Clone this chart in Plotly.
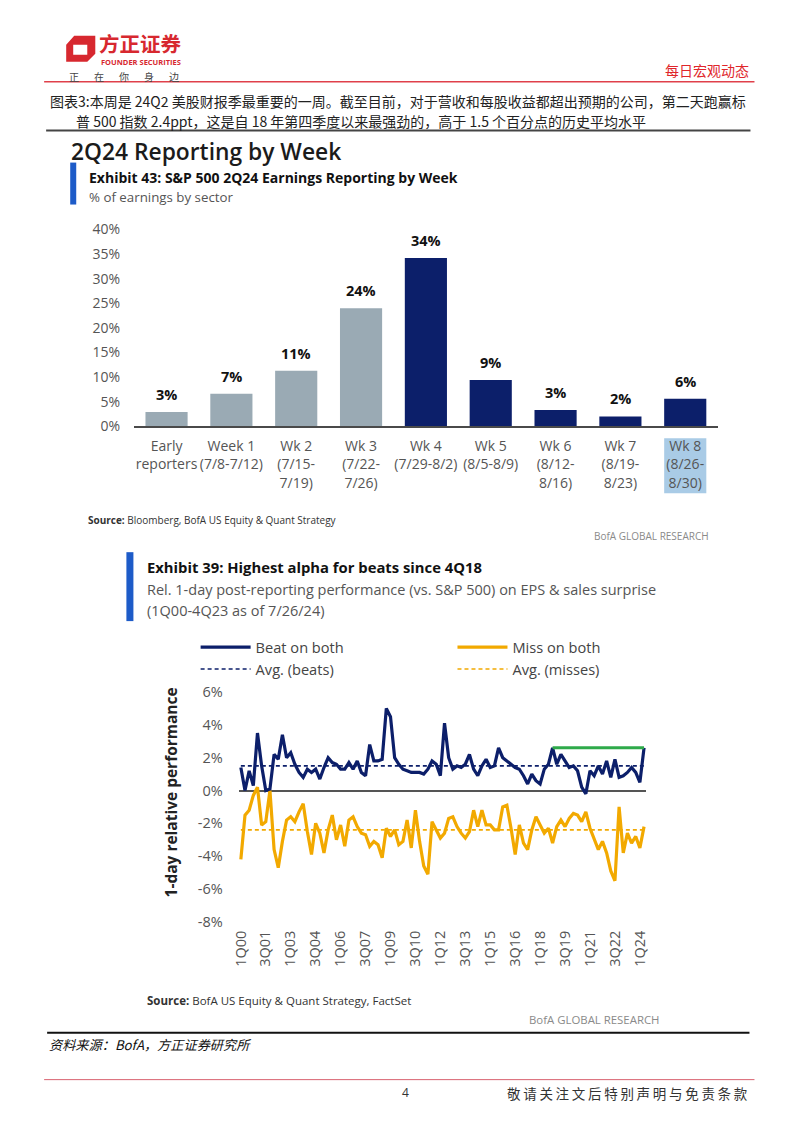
import plotly.graph_objects as go

# ---------------- data ----------------
week_labels = ["Early<br>reporters", "Week 1<br>(7/8-7/12)", "Wk 2<br>(7/15-<br>7/19)",
               "Wk 3<br>(7/22-<br>7/26)", "Wk 4<br>(7/29-8/2)", "Wk 5<br>(8/5-8/9)",
               "Wk 6<br>(8/12-<br>8/16)", "Wk 7<br>(8/19-<br>8/23)", "Wk 8<br>(8/26-<br>8/30)"]
earnings_pct = [2.9, 6.6, 11.3, 24.0, 34.2, 9.4, 3.3, 2.0, 5.6]
bar_yticks = [0, 5, 10, 15, 20, 25, 30, 35, 40]

quarters = [f"{q}Q{y:02d}" for y in range(0, 25) for q in range(1, 5)][:98]
beat_both = [1.4, 0.0, 1.2, 0.3, 3.5, 1.5, 0.0, 0.1, 2.2, 1.9,
             3.4, 2.0, 2.3, 1.6, 1.1, 0.8, 1.3, 1.1, 1.3, 0.7,
             1.4, 2.0, 1.7, 1.6, 1.3, 1.3, 1.7, 1.3, 1.8, 1.1,
             0.9, 2.8, 1.8, 1.8, 1.9, 5.0, 4.5, 2.0, 1.6, 1.3,
             1.2, 1.1, 1.1, 1.1, 1.0, 1.3, 1.8, 1.6, 0.9, 4.1,
             2.0, 1.3, 1.5, 1.4, 1.6, 2.2, 1.3, 0.9, 1.5, 1.9,
             1.4, 1.5, 2.6, 2.0, 1.8, 1.6, 1.4, 1.3, 0.9, 0.4,
             1.0, 0.6, 0.4, 1.3, 1.6, 2.6, 1.6, 2.2, 1.8, 1.4,
             1.5, 1.2, 0.2, -0.2, 1.2, 0.9, 1.5, 1.0, 1.8, 0.8,
             1.9, 0.8, 0.9, 1.1, 1.4, 1.1, 0.5, 2.6]
miss_both = [-4.2, -1.5, -1.2, -0.3, 0.2, -2.1, -1.9, 0.0, -3.6, -4.7,
             -3.1, -1.8, -1.6, -1.9, -1.3, -0.8, -2.5, -3.9, -2.0, -2.6,
             -3.8, -2.4, -1.5, -3.0, -2.1, -3.4, -1.8, -1.6, -2.2, -2.6,
             -2.7, -3.4, -3.1, -3.3, -4.1, -2.3, -2.8, -2.4, -3.3, -3.1,
             -1.8, -3.5, -1.2, -3.1, -4.6, -5.1, -1.9, -2.4, -2.9, -2.6,
             -1.7, -1.6, -2.2, -2.6, -2.9, -2.5, -1.2, -2.2, -1.2, -2.1,
             -2.1, -2.4, -2.4, -1.0, -0.9, -2.3, -3.9, -2.1, -3.2, -3.6,
             -2.4, -1.6, -2.1, -2.6, -2.3, -3.2, -2.2, -1.8, -2.2, -1.7,
             -1.4, -1.5, -1.9, -1.3, -2.3, -2.9, -3.6, -3.1, -3.8, -4.9,
             -5.5, -1.0, -3.8, -2.6, -3.2, -2.8, -3.5, -2.2]
avg_beats = 1.5
avg_misses = -2.4
highlight_start = "4Q18"
line_xticks = ["1Q00", "3Q01", "1Q03", "3Q04", "1Q06", "3Q07", "1Q09", "3Q10", "1Q12",
               "3Q13", "1Q15", "3Q16", "1Q18", "3Q19", "1Q21", "3Q22", "1Q24"]
line_yticks = [6, 4, 2, 0, -2, -4, -6, -8]

# ---------------- style ----------------
# the page body keeps its 8px margin; the figure fills the rest of the window.
# page positions below are given in reference-image pixels and mapped with a
# small measured correction (offset + scale) of the rendered page.
OX, OY = 8, 8
W, H = 802 - 2 * OX, 1133 - 2 * OY
AX, AY, SC = 10.1, 10.4, 0.984
def fx(x): return ((x - AX) / SC - OX) / W
def fy(y): return 1 - ((y - AY) / SC - OY) / H

NAVY = "#0c1f6a"
GRAYBAR = "#9aaab4"
ORANGE = "#f2a900"
GREEN = "#2eaa4a"
BLUEBAR = "#1d5bc8"
RED = "#d7282f"
OPEN = "Open Sans, sans-serif"
CJK = "Noto Sans CJK SC, sans-serif"
bar_colors = [GRAYBAR] * 4 + [NAVY] * 5

fig = go.Figure()

# ---- bar chart ----
fig.add_trace(go.Bar(x=week_labels, y=earnings_pct, marker=dict(color=bar_colors, line=dict(width=0)),
                     xaxis="x", yaxis="y", showlegend=False, hoverinfo="skip"))

# ---- line chart ----
n = len(quarters)
hs = quarters.index(highlight_start)
fig.add_trace(go.Scatter(x=quarters, y=[avg_beats] * n, mode="lines", name="Avg. (beats)",
                         line=dict(color=NAVY, width=1.6, dash="4px,3px"), xaxis="x2", yaxis="y2",
                         legend="legend", legendrank=3))
fig.add_trace(go.Scatter(x=quarters, y=[avg_misses] * n, mode="lines", name="Avg. (misses)",
                         line=dict(color=ORANGE, width=1.6, dash="4px,3px"), xaxis="x2", yaxis="y2",
                         legend="legend2", legendrank=4))
fig.add_trace(go.Scatter(x=quarters, y=miss_both, mode="lines", name="Miss on both",
                         line=dict(color=ORANGE, width=3.2), xaxis="x2", yaxis="y2",
                         legend="legend2", legendrank=2))
fig.add_trace(go.Scatter(x=quarters, y=beat_both, mode="lines", name="Beat on both",
                         line=dict(color=NAVY, width=3.2), xaxis="x2", yaxis="y2",
                         legend="legend", legendrank=1))
fig.add_trace(go.Scatter(x=quarters[hs:], y=[beat_both[-1]] * (n - hs), mode="lines",
                         line=dict(color=GREEN, width=3), xaxis="x2", yaxis="y2", showlegend=False))

ann = []
def text(x, y, s, size, color="#333", family=OPEN, anchor="left", weight=None, angle=0):
    f = dict(size=size, color=color, family=family)
    if weight:
        f["weight"] = weight
    ann.append(dict(x=fx(x), y=fy(y), xref="paper", yref="paper", text=s, showarrow=False,
                    xanchor=anchor, yanchor="middle", textangle=angle, font=f))

# bar value labels
for cat, v in zip(week_labels, earnings_pct):
    ann.append(dict(x=cat, y=v, xref="x", yref="y", text=f"<b>{v:.0f}%</b>", showarrow=False,
                    yanchor="bottom", yshift=6, font=dict(size=14.5, color="#111", family=OPEN)))

# header
text(99, 43, "<b>方正证券</b>", 20.5, RED, CJK)
text(101, 62, "<b>FOUNDER SECURITIES</b>", 7.5, RED, OPEN)
text(69, 76.5, "\u2003\u2002".join("正在你身边"), 10, "#444", CJK)
text(751, 70, "每日宏观动态", 14, "#e0262b", CJK, anchor="right")
text(50, 101, "图表3:本周是 24Q2 美股财报季最重要的一周。截至目前，对于营收和每股收益都超出预期的公司，第二天跑赢标",
     14, "#222", CJK)
text(76, 121, "普 500 指数 2.4ppt，这是自 18 年第四季度以来最强劲的，高于 1.5 个百分点的历史平均水平",
     14, "#222", CJK)

# exhibit 43
text(71, 152, "2Q24 Reporting by Week", 22.8, "#1b1b1b", OPEN, weight=600)
text(89, 178, "<b>Exhibit 43: S&P 500 2Q24 Earnings Reporting by Week</b>", 14, "#111")
text(89, 197, "% of earnings by sector", 13.3, "#555")
text(88, 521, "<b>Source:</b> Bloomberg, BofA US Equity & Quant Strategy", 10, "#333")
text(711, 537, "BofA GLOBAL RESEARCH", 10, "#8a8a8a", anchor="right")

# exhibit 39
text(147, 568, "<b>Exhibit 39: Highest alpha for beats since 4Q18</b>", 14.8, "#111")
text(147, 590, "Rel. 1-day post-reporting performance (vs. S&P 500) on EPS & sales surprise", 14.5, "#555")
text(147, 611, "(1Q00-4Q23 as of 7/26/24)", 14.5, "#555")
text(172, 794, "<b>1-day relative performance</b>", 15.5, "#222", anchor="center", angle=-90)
text(147, 1002, "<b>Source:</b> BofA US Equity & Quant Strategy, FactSet", 11.5, "#333")
text(662, 1021, "BofA GLOBAL RESEARCH", 11.4, "#8a8a8a", anchor="right")

# footer
text(49, 1046, "<i>资料来源：BofA，方正证券研究所</i>", 13.2, "#111", CJK)
text(406, 1094, "4", 12, "#333", OPEN, anchor="center")
text(750, 1094, "\u2009".join("敬请关注文后特别声明与免责条款"), 13.5, "#333", CJK, anchor="right")

def hline(y, x0, x1, color, width):
    return dict(type="line", xref="paper", yref="paper", x0=fx(x0), x1=fx(x1), y0=fy(y), y1=fy(y),
                line=dict(color=color, width=width))
def rect(x0, y0, x1, y1, color, layer="above"):
    return dict(type="rect", xref="paper", yref="paper", x0=fx(x0), x1=fx(x1), y0=fy(y1), y1=fy(y0),
                fillcolor=color, line=dict(width=0), layer=layer)

def logo_path():
    outer = [(68, 45), (76, 36), (97, 36), (97, 54), (89, 62), (68, 62)]
    inner = [(75, 45), (75, 55), (89, 55), (89, 45)]
    def p(pts):
        return "M " + " L ".join(f"{fx(a):.5f},{fy(b):.5f}" for a, b in pts) + " Z"
    return p(outer) + " " + p(inner)

shapes = [
    dict(type="path", xref="paper", yref="paper", path=logo_path(), fillcolor=RED, line=dict(width=0)),
    hline(82, 46, 754, "#e0404a", 1.5),
    hline(131, 48, 750, "#444", 2),
    rect(72, 163, 78, 205, BLUEBAR),
    rect(128, 553, 135, 622, BLUEBAR),
    rect(664, 439, 706, 494, "#a9cbe6", layer="below"),
    hline(1034, 49, 749, "#111", 2),
    hline(1081, 46, 754, "#d9626f", 1),
]

legend_common = dict(orientation="v", xanchor="left", yanchor="top", itemwidth=50,
                     traceorder="normal", font=dict(size=14.6, color="#444", family=OPEN),
                     bgcolor="rgba(0,0,0,0)", borderwidth=0, tracegroupgap=0,
                     itemclick=False, itemdoubleclick=False)

fig.update_layout(
    width=W, height=H, autosize=False,
    margin=dict(l=0, r=0, t=0, b=0, pad=0),
    paper_bgcolor="white", plot_bgcolor="white",
    bargap=0.35,
    annotations=ann, shapes=shapes,
    xaxis=dict(domain=[fx(135.7), fx(717.3)], anchor="y", showgrid=False, showline=True,
               linecolor="#4a4a4a", linewidth=2, ticks="", tickangle=0, ticklabelstandoff=6,
               tickfont=dict(size=14, color="#555", family=OPEN)),
    yaxis=dict(domain=[fy(427), fy(230)], anchor="x", range=[0, 40], tickvals=bar_yticks,
               ticktext=[f"{v}%" for v in bar_yticks], showgrid=False, zeroline=False,
               showline=False, ticks="", ticklabelstandoff=13,
               tickfont=dict(size=14, color="#555", family=OPEN)),
    xaxis2=dict(domain=[fx(240), fx(646)], anchor="y2", type="category", range=[-0.5, n - 0.5],
                tickvals=line_xticks, ticktext=line_xticks, tickangle=-90, showgrid=False,
                showline=False, ticks="", zeroline=False, ticklabelstandoff=5,
                tickfont=dict(size=14.5, color="#555", family=OPEN)),
    yaxis2=dict(domain=[fy(923), fy(693)], anchor="x2", range=[-8, 6], tickvals=line_yticks,
                ticktext=[f"{v}%" for v in line_yticks], showgrid=False, zeroline=True,
                zerolinecolor="#555", zerolinewidth=2, showline=False, ticks="",
                ticklabelstandoff=15, tickfont=dict(size=14.5, color="#555", family=OPEN)),
    legend=dict(x=fx(197), y=fy(632), **legend_common),
    legend2=dict(x=fx(453), y=fy(632), **legend_common),
    hovermode=False,
)

fig.write_html("out.html", config={"displayModeBar": False, "staticPlot": True})
